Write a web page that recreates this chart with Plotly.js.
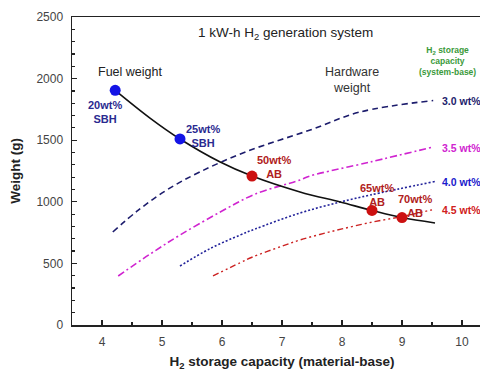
<!DOCTYPE html>
<html>
<head>
<meta charset="utf-8">
<script src="https://cdn.plot.ly/plotly-3.0.1.min.js"></script>
<style>
html, body { margin:0; padding:0; overflow:hidden; background:#fff; }
#chart { width:500px; height:371px; }
</style>
</head>
<body>
<div id="chart"></div>
<script>
// Fuel weight curve (material-base capacity vs weight)
const fuelX = [4.22, 4.8, 5.3, 5.97, 6.5, 7.3, 7.97, 8.5, 9.0, 9.55];
const fuelY = [1905, 1680, 1510, 1323, 1209, 1080, 998, 930, 872, 828];

// Fuel points
const sbhX = [4.22, 5.3];
const sbhY = [1905, 1510];
const sbhLabels = ["20wt%<br>SBH", "25wt%<br>SBH"];
const abX = [6.5, 8.5, 9.0];
const abY = [1209, 930, 872];
const abLabels = ["50wt%<br>AB", "65wt%<br>AB", "70wt%<br>AB"];

// Hardware weight curves (system-base capacity)
const hw30X = [4.18, 4.6, 5.08, 5.63, 6.42, 7.47, 8.3, 9.52];
const hw30Y = [755, 930, 1096, 1242, 1410, 1583, 1729, 1822];
const hw35X = [4.27, 4.8, 5.3, 5.97, 6.55, 7.3, 7.47, 8.47, 9.52];
const hw35Y = [398, 575, 730, 917, 1062, 1177, 1210, 1323, 1445];
const hw40X = [5.3, 5.8, 6.3, 6.55, 7.3, 7.97, 8.47, 9.55];
const hw40Y = [479, 620, 730, 779, 909, 998, 1055, 1165];
const hw45X = [5.85, 6.3, 6.5, 7.0, 7.3, 7.63, 8.0, 8.5, 9.0, 9.5];
const hw45Y = [398, 505, 550, 640, 690, 735, 780, 835, 880, 935];
const hwLabels = ["3.0 wt%", "3.5 wt%", "4.0 wt%", "4.5 wt%"];

const traces = [
  {x: hw30X, y: hw30Y, mode:'lines', line:{color:'#1c1c6c', width:1.6, dash:'6px,4px', shape:'spline'}},
  {x: hw35X, y: hw35Y, mode:'lines', line:{color:'#d024d0', width:1.6, dash:'7px,3px,2px,3px', shape:'spline'}},
  {x: hw40X, y: hw40Y, mode:'lines', line:{color:'#22229a', width:1.6, dash:'2px,2px', shape:'spline'}},
  {x: hw45X, y: hw45Y, mode:'lines', line:{color:'#cc2222', width:1.4, dash:'6px,3px,2px,3px,2px,3px', shape:'spline'}},
  {x: fuelX, y: fuelY, mode:'lines', line:{color:'#111', width:1.6, shape:'spline'}},
  {x: sbhX, y: sbhY, mode:'markers', marker:{color:'#1414e6', size:11}},
  {x: abX, y: abY, mode:'markers', marker:{color:'#cc1111', size:11}}
];

const lblFont = {family:'Liberation Sans, Arial, sans-serif', size:11, color:'#2a2a90', weight:'bold'};
const redFont = {family:'Liberation Sans, Arial, sans-serif', size:11, color:'#b02020', weight:'bold'};

const ann = [
  {x:7.05, y:2370, text:'1 kW-h H<sub>2</sub> generation system', showarrow:false, font:{family:'Liberation Sans, Arial', size:13.5, color:'#222'}},
  {x:4.47, y:2054, text:'Fuel weight', showarrow:false, font:{family:'Liberation Sans, Arial', size:12.5, color:'#222'}},
  {x:8.17, y:1985, text:'Hardware<br>weight', showarrow:false, font:{family:'Liberation Sans, Arial', size:12.5, color:'#333'}},
  {x:9.76, y:2140, text:'H<sub>2</sub> storage<br>capacity<br>(system-base)', showarrow:false, font:{family:'Liberation Sans, Arial', size:8.5, color:'#3a9a3a', weight:'bold'}},
  {x:4.05, y:1729, text:sbhLabels[0], showarrow:false, font:lblFont},
  {x:5.68, y:1534, text:sbhLabels[1], showarrow:false, font:lblFont},
  {x:6.87, y:1282, text:abLabels[0], showarrow:false, font:redFont},
  {x:8.58, y:1055, text:abLabels[1], showarrow:false, font:redFont},
  {x:9.22, y:966, text:abLabels[2], showarrow:false, font:redFont}
];
const hwColors = ['#1c1c6c', '#d024d0', '#1a1acc', '#d02020'];
const hwLabY = [1818, 1437, 1160, 933];
for (let i = 0; i < 4; i++) {
  ann.push({x:9.63, y:hwLabY[i], xanchor:'left', text:hwLabels[i], showarrow:false,
    font:{family:'Liberation Sans, Arial', size:10.5, color:hwColors[i], weight:'bold'}});
}

const layout = {
  width:500, height:371,
  margin:{l:72, r:8, t:17, b:46},
  paper_bgcolor:'#fff', plot_bgcolor:'#fff',
  showlegend:false,
  xaxis:{range:[3.5,10.5], dtick:1, tick0:0, ticks:'inside', ticklen:5, tickwidth:1.2, tickcolor:'#222',
    minor:{dtick:0.5, ticks:'inside', ticklen:3, tickcolor:'#222'},
    showline:true, linecolor:'#222', linewidth:1.5, mirror:true, showgrid:false, zeroline:false,
    ticklabelstandoff:5,
    tickfont:{family:'Liberation Sans, Arial', size:12, color:'#444'},
    title:{text:'H<sub>2</sub> storage capacity (material-base)', standoff:12, font:{family:'Liberation Sans, Arial', size:13.5, color:'#222', weight:'bold'}}},
  yaxis:{range:[0,2500], dtick:500, ticks:'inside', ticklen:5, tickwidth:1.2, tickcolor:'#222',
    minor:{dtick:100, ticks:'inside', ticklen:3, tickcolor:'#222'},
    showline:true, linecolor:'#222', linewidth:1.5, mirror:true, showgrid:false, zeroline:false,
    ticklabelstandoff:5,
    tickfont:{family:'Liberation Sans, Arial', size:12, color:'#444'},
    title:{text:'Weight (g)', standoff:12, font:{family:'Liberation Sans, Arial', size:13.5, color:'#222', weight:'bold'}}},
  annotations: ann
};

Plotly.newPlot('chart', traces, layout, {displayModeBar:false, staticPlot:true});
</script>
</body>
</html>
